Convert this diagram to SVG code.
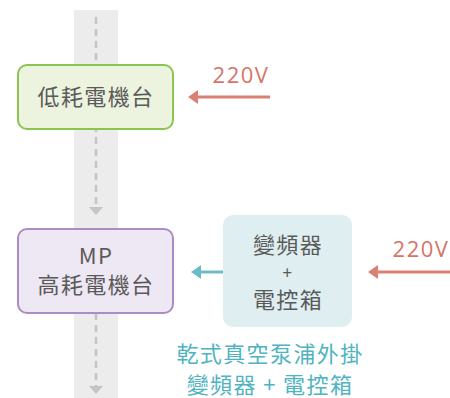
<svg xmlns="http://www.w3.org/2000/svg" width="450" height="398" viewBox="0 0 450 398">
<defs>
<style>
.cjk{font-family:"Noto Sans CJK TC","Noto Sans CJK SC",sans-serif;font-size:22px;letter-spacing:1.4px;text-anchor:middle;fill:#5a5a5a}
.v{font-family:"Open Sans","Noto Sans",sans-serif;font-size:22px;letter-spacing:1.5px;fill:#d5756a;text-anchor:middle}
.dash{stroke:#c4c4c4;stroke-width:2.5;stroke-dasharray:7 5;fill:none}
.red{stroke:#d98073;stroke-width:3;fill:none}
.teal{stroke:#6cbcc7;stroke-width:3;fill:none}
</style>
</defs>
<rect x="74" y="10" width="44" height="388" fill="#ececec"/>
<g id="connectors">
<path class="dash" d="M96,17 V208"/>
<path d="M89,207 L103,207 L96,215 z" fill="#c4c4c4"/>
<path class="dash" d="M96,313 V387"/>
<path d="M89,386 L103,386 L96,394 z" fill="#c4c4c4"/>
<path class="red" d="M270,97 H196"/>
<path d="M198,90 L188,97 L198,104 z" fill="#d98073"/>
<path class="red" d="M450,272 H376"/>
<path d="M378,265 L368,272 L378,279 z" fill="#d98073"/>
<path class="teal" d="M223,272 H199"/>
<path d="M201,265 L191,272 L201,279 z" fill="#6cbcc7"/>
<text class="v" x="241" y="83">220V</text>
<text class="v" x="421" y="257">220V</text>
</g>
<g id="node-low">
<rect x="18" y="65" width="155" height="64" rx="9" fill="#ecf3de" stroke="#8cc450" stroke-width="2"/>
<text class="cjk" x="96" y="105">低耗電機台</text>
</g>
<g id="node-mp">
<rect x="18" y="229" width="155" height="84" rx="9" fill="#eee7f4" stroke="#ab8cc4" stroke-width="2"/>
<text class="cjk" x="96" y="264">MP</text>
<text class="cjk" x="96" y="293">高耗電機台</text>
</g>
<g id="node-inv">
<rect x="223" y="215" width="129" height="112" rx="10" fill="#dfeef0"/>
<text class="cjk" x="288" y="253">變頻器</text>
<text class="cjk" x="288" y="279" style="font-size:17px">+</text>
<text class="cjk" x="288" y="308">電控箱</text>
</g>
<g id="caption">
<text class="cjk" x="270" y="362" style="fill:#4fb3c0">乾式真空泵浦外掛</text>
<text class="cjk" x="270" y="393" style="fill:#4fb3c0">變頻器 + 電控箱</text>
</g>
</svg>
